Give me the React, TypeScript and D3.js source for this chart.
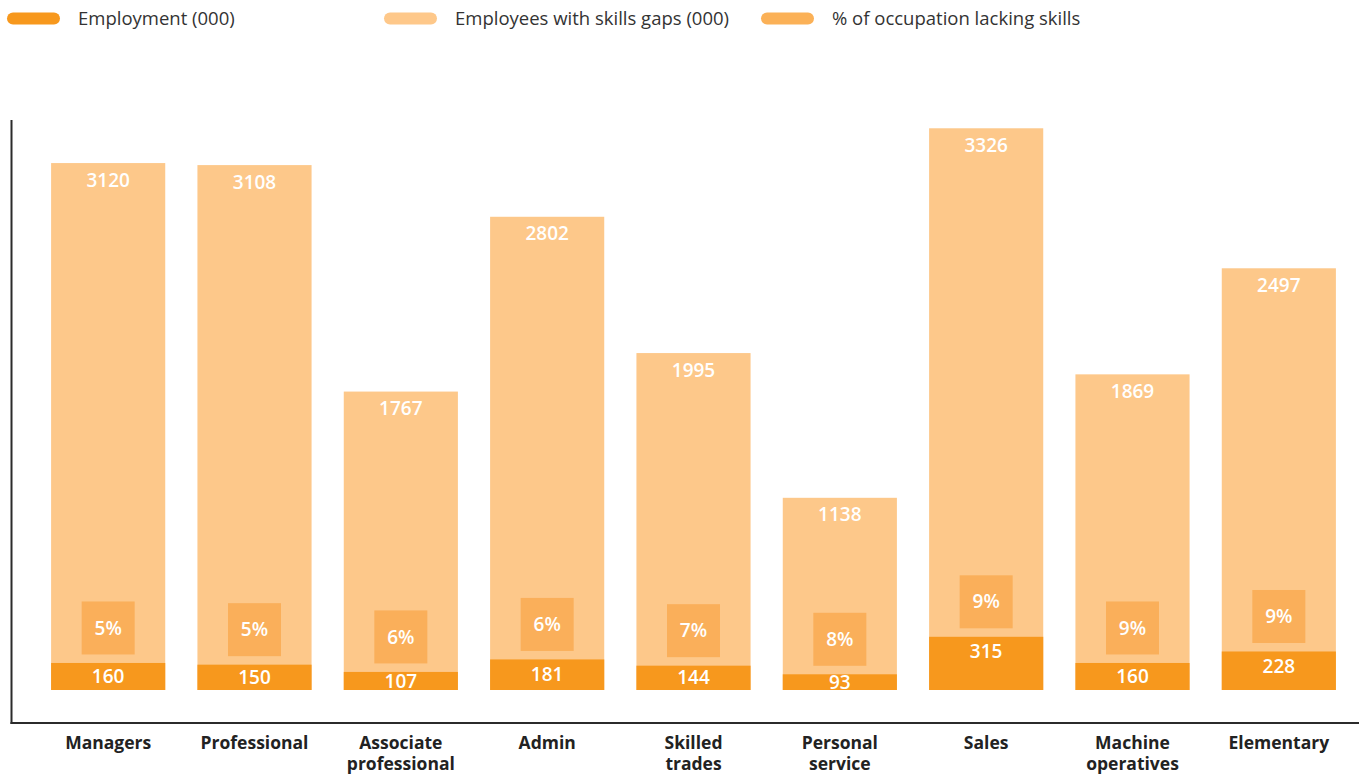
import React from "react";
import * as d3 from "d3";

const categories: string[][] = [
  ["Managers"],
  ["Professional"],
  ["Associate", "professional"],
  ["Admin"],
  ["Skilled", "trades"],
  ["Personal", "service"],
  ["Sales"],
  ["Machine", "operatives"],
  ["Elementary"],
];
const employment = [3120, 3108, 1767, 2802, 1995, 1138, 3326, 1869, 2497];
const skillsGaps = [160, 150, 107, 181, 144, 93, 315, 160, 228];
const pctLacking = [5, 5, 6, 6, 7, 8, 9, 9, 9];
const legendItems = [
  { label: "Employment (000)", color: "#F7981D" },
  { label: "Employees with skills gaps (000)", color: "#FEC88A" },
  { label: "% of occupation lacking skills", color: "#FBB157" },
];

const W = 1359;
const H = 776;
const FONT = "'Open Sans', 'Noto Sans', sans-serif";
const LIGHT = "#FDC88A";
const DARK = "#F7981D";
const BOX = "#FAAF5A";

export default function App() {
  const idx = categories.map((_, i) => String(i));
  const x = d3.scaleBand<string>().domain(idx).range([35, 1352]).paddingInner(0.22).paddingOuter(0.11);
  const y = d3.scaleLinear().domain([0, 3375]).range([690, 120]);
  const bw = x.bandwidth();
  const boxSize = 53;
  const legendX = [7, 384, 761];

  return (
    <svg width={W} height={H} style={{ position: "absolute", left: 0, top: 0 }} fontFamily={FONT}>
      {legendItems.map((item, i) => (
        <g key={i} transform={`translate(${legendX[i]},0)`}>
          <rect x={0} y={12.5} width={53} height={12} rx={6} fill={item.color} />
          <text x={71} y={25} fontSize={18.5} fill="#333">{item.label}</text>
        </g>
      ))}
      {idx.map((k, i) => {
        const x0 = x(k)!;
        const cx = x0 + bw / 2;
        const topE = y(employment[i]);
        const topG = y(skillsGaps[i]);
        const hG = y(0) - topG;
        const boxBottom = topG - 8.5;
        return (
          <g key={k}>
            <rect x={x0} y={topE} width={bw} height={y(0) - topE} fill={LIGHT} />
            <rect x={x0} y={topG} width={bw} height={hG} fill={DARK} />
            <rect x={cx - boxSize / 2} y={boxBottom - boxSize} width={boxSize} height={boxSize} fill={BOX} />
            <text x={cx} y={topE + 17} dy="0.35em" textAnchor="middle" fontSize={19} fontWeight={600} fill="#fff">
              {employment[i]}
            </text>
            <text x={cx} y={topG + Math.min(hG / 2, 15)} dy="0.35em" textAnchor="middle" fontSize={19} fontWeight={600} fill="#fff">
              {skillsGaps[i]}
            </text>
            <text x={cx} y={boxBottom - boxSize / 2} dy="0.35em" textAnchor="middle" fontSize={19} fontWeight={600} fill="#fff">
              {pctLacking[i]}%
            </text>
            {categories[i].map((line, j) => (
              <text key={j} x={cx} y={748.5 + j * 21} textAnchor="middle" fontSize={17.5} fontWeight="bold" fill="#222">
                {line}
              </text>
            ))}
          </g>
        );
      })}
      <line x1={11.5} y1={120} x2={11.5} y2={724} stroke="#2b2b2b" strokeWidth={2} />
      <line x1={10.5} y1={723} x2={W} y2={723} stroke="#2b2b2b" strokeWidth={2} />
    </svg>
  );
}
